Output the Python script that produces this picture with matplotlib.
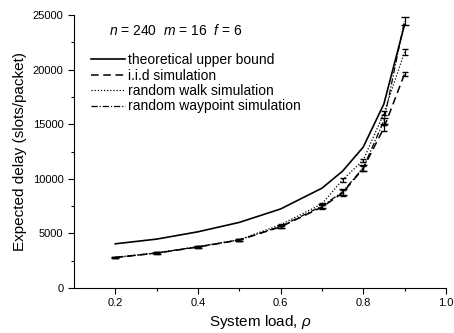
import numpy as np
import matplotlib.pyplot as plt

plt.rcParams['font.family'] = ['Liberation Sans', 'DejaVu Sans']
plt.rcParams['mathtext.fontset'] = 'custom'
plt.rcParams['mathtext.it'] = 'Liberation Sans:italic'
plt.rcParams['mathtext.rm'] = 'Liberation Sans'

load = [0.2, 0.3, 0.4, 0.5, 0.6, 0.7, 0.75, 0.8, 0.85, 0.9]
theory = [4050, 4480, 5150, 6010, 7240, 9140, 10700, 12900, 16850, 24100]
iid = [2800, 3200, 3750, 4400, 5600, 7400, 8700, 10950, 14650, 19600]
iid_err = [60, 60, 80, 90, 120, 200, 250, 200, 250, 200]
walk = [2820, 3220, 3800, 4420, 5800, 7700, 9900, 11700, 16000, 21600]
walk_err = [50, 50, 60, 70, 100, 120, 150, 150, 200, 250]
waypoint = [2790, 3210, 3780, 4400, 5650, 7500, 8800, 11000, 15300, 24450]
waypoint_err = [60, 60, 80, 90, 120, 200, 250, 250, 300, 400]

fig = plt.figure(figsize=(4.54, 3.33), dpi=100)
ax = fig.add_axes([0.163, 0.135, 0.819, 0.82])

l0, = ax.plot(load, theory, 'k-', lw=1.2)
e1 = ax.errorbar(load, iid, yerr=iid_err, color='k', lw=1.1, dashes=(5, 3),
                 capsize=2.5, elinewidth=0.9)
e2 = ax.errorbar(load, walk, yerr=walk_err, color='k', lw=0.9, dashes=(1, 1.5),
                 capsize=2, elinewidth=0.8)
e3 = ax.errorbar(load, waypoint, yerr=waypoint_err, color='k', lw=0.9,
                 dashes=(5, 1.5, 1, 1.5), capsize=3, elinewidth=0.9)

ax.set_xlim(0.1, 1.0)
ax.set_ylim(0, 25000)
ax.set_xticks([0.2, 0.4, 0.6, 0.8, 1.0])
ax.set_xticks([0.3, 0.5, 0.7, 0.9], minor=True)
ax.set_yticks(np.arange(0, 25001, 5000))
ax.set_yticks(np.arange(2500, 25000, 5000), minor=True)
ax.tick_params(labelsize=8, length=4, width=0.8)
ax.tick_params(which='minor', length=2.5, width=0.8)
for s in ['top', 'right']:
    ax.spines[s].set_visible(False)

ax.set_xlabel(r'System load, $\rho$', fontsize=11, labelpad=3)
ax.set_ylabel('Expected delay (slots/packet)', fontsize=11, labelpad=4)

ax.text(0.185, 23150, r'$n$ = 240  $m$ = 16  $f$ = 6', fontsize=10)

handles = [l0, e1.lines[0], e2.lines[0], e3.lines[0]]
labels = ['theoretical upper bound', 'i.i.d simulation',
          'random walk simulation', 'random waypoint simulation']
ax.legend(handles, labels, loc='upper left', bbox_to_anchor=(0.03, 0.88),
          frameon=False, fontsize=10, handlelength=2.5, handletextpad=0.2,
          labelspacing=0.1, borderaxespad=0)

fig.savefig('out.png', dpi=100)
